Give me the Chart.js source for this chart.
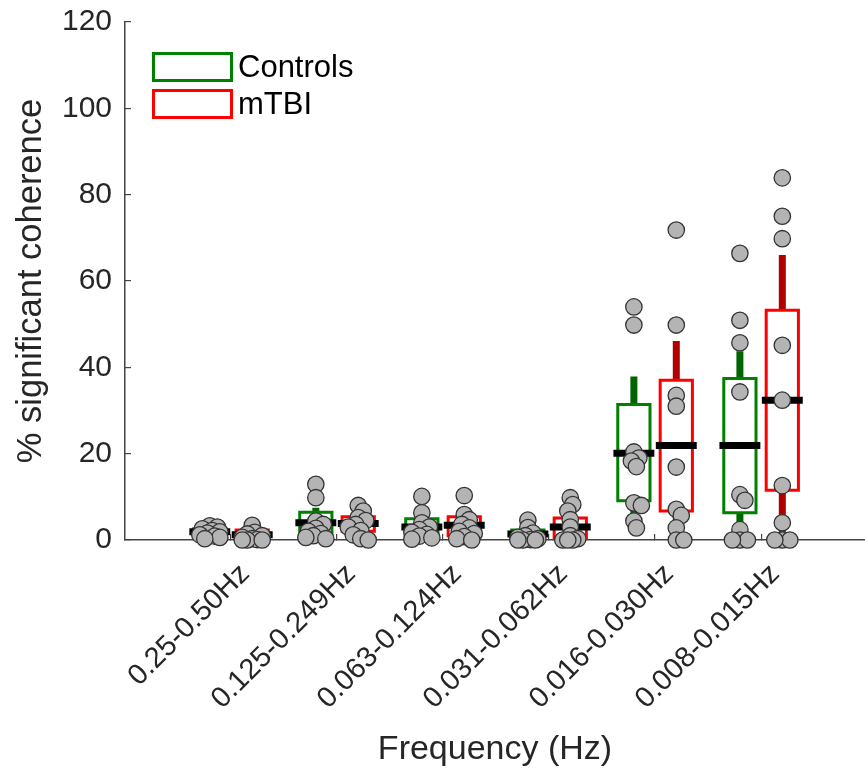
<!DOCTYPE html>
<html>
<head>
<meta charset="utf-8">
<script src="https://cdn.jsdelivr.net/npm/chart.js@4.4.0/dist/chart.umd.min.js"></script>
<style>
html, body { margin: 0; padding: 0; background: #fff; }
#wrap { position: relative; width: 865px; height: 768px; }
#legend { position: absolute; left: 152px; top: 52px; font-family: 'Liberation Sans', Arial, sans-serif; font-size: 31px; color: #000; }
.item { display: flex; align-items: center; height: 30px; margin-bottom: 7px; }
.swatch { width: 75px; height: 24px; border: 3px solid; background: #fff; margin-right: 5px; }
</style>
</head>
<body>
<div id="wrap">
  <canvas id="chart" width="865" height="768"></canvas>
  <div id="legend">
    <div class="item"><div class="swatch" style="border-color:#008000"></div>Controls</div>
    <div class="item"><div class="swatch" style="border-color:#ff0000"></div>mTBI</div>
  </div>
</div>
<script>
let categories = ['0.25-0.50Hz', '0.125-0.249Hz', '0.063-0.124Hz', '0.031-0.062Hz', '0.016-0.030Hz', '0.008-0.015Hz'];

// Controls: box stats per band
let ctrlLow = [0.3, 0.5, 0.2, 0, 2.8, 0];
let ctrlQ1 = [1.3, 1.3, 0.9, 0.3, 9.1, 6.3];
let ctrlMed = [1.9, 4.0, 3.0, 1.4, 20.1, 21.9];
let ctrlQ3 = [2.6, 6.4, 4.9, 2.3, 31.4, 37.4];
let ctrlHigh = [3.2, 7.5, 6.3, 2.9, 37.9, 43.7];

// mTBI: box stats per band
let tbiLow = [0, 0, 0, 0, 0, 0];
let tbiQ1 = [0.5, 2.0, 1.0, 0.3, 6.7, 11.5];
let tbiMed = [1.2, 3.8, 3.4, 3.0, 21.9, 32.4];
let tbiQ3 = [2.3, 5.4, 5.4, 5.1, 37.0, 53.2];
let tbiHigh = [3.4, 8.0, 5.9, 9.8, 46.1, 66.0];

// individual subjects
let ctrlPoints = [
  [3.3, 3.0, 2.6, 2.2, 1.9, 1.6, 1.2, 0.9, 0.6, 0.3],
  [12.9, 9.8, 4.4, 3.6, 2.7, 2.0, 1.5, 1.0, 0.6, 0.3],
  [10.1, 6.3, 4.0, 3.0, 2.4, 1.8, 1.3, 0.9, 0.5, 0.2],
  [4.6, 2.9, 1.6, 1.0, 0.6, 0.3, 0.1, 0, 0, 0],
  [54.0, 49.8, 20.4, 19.0, 18.3, 17.0, 8.6, 8.0, 4.4, 2.8],
  [66.4, 50.9, 45.7, 34.3, 10.5, 9.2, 2.4, 0, 0, 0],
];
let tbiPoints = [
  [3.4, 1.8, 1.4, 1.0, 0.6, 0.3, 0.1, 0, 0, 0],
  [8.0, 6.7, 5.2, 4.5, 3.6, 3.0, 2.2, 1.2, 0.3, 0],
  [10.3, 5.9, 4.7, 3.6, 2.8, 2.0, 1.5, 0.8, 0.3, 0],
  [9.8, 8.2, 6.7, 4.7, 3.0, 1.0, 0.3, 0, 0, 0],
  [71.8, 49.8, 33.5, 31.0, 16.9, 7.1, 5.7, 2.8, 0, 0],
  [83.9, 75.0, 69.8, 45.1, 32.4, 12.6, 4.0, 0, 0, 0],
];

let yTicks = [0, 20, 40, 60, 80, 100, 120];

let groupOffset = 0.2;
let boxHalf = 0.152;
let medianHalf = 0.193;
let fontFamily = "'Liberation Sans', Arial, Helvetica, sans-serif";
let textColor = '#262626';

let whiskerData = (low, q1, q3, high, shift) => {
  let out = [];
  categories.forEach((c, i) => {
    let cx = i + 1 + shift;
    out.push({x: cx, y: low[i]}, {x: cx, y: q1[i]}, {x: cx, y: null});
    out.push({x: cx, y: q3[i]}, {x: cx, y: high[i]}, {x: cx, y: null});
  });
  return out;
};

let boxData = (q1, q3, shift) => {
  let out = [];
  categories.forEach((c, i) => {
    let cx = i + 1 + shift;
    out.push({x: cx, y: q1[i]}, {x: cx + boxHalf, y: q1[i]}, {x: cx + boxHalf, y: q3[i]},
      {x: cx - boxHalf, y: q3[i]}, {x: cx - boxHalf, y: q1[i]}, {x: cx, y: q1[i]}, {x: cx, y: null});
  });
  return out;
};

let medianData = (med, shift) => {
  let out = [];
  categories.forEach((c, i) => {
    let cx = i + 1 + shift;
    out.push({x: cx - medianHalf, y: med[i]}, {x: cx + medianHalf, y: med[i]}, {x: cx, y: null});
  });
  return out;
};

let centerData = (groups, shift) => {
  let out = [];
  groups.forEach((vals, i) => vals.forEach(v => out.push({x: i + 1 + shift, y: v})));
  return out;
};

let lineSet = (data, color, width, order) => ({
  data: data,
  showLine: true,
  borderColor: color,
  borderWidth: width,
  borderCapStyle: 'butt',
  borderJoinStyle: 'miter',
  pointRadius: 0,
  spanGaps: false,
  tension: 0,
  clip: false,
  order: order,
});

let pointSet = (data) => ({
  data: data,
  showLine: false,
  pointRadius: 8.2,
  pointBackgroundColor: '#b4b4b4',
  pointBorderColor: '#333333',
  pointBorderWidth: 1.3,
  clip: false,
  order: 0,
});

let chart = new Chart(document.getElementById('chart'), {
  type: 'scatter',
  data: {
    datasets: [
      pointSet(centerData(ctrlPoints, -groupOffset)),
      pointSet(centerData(tbiPoints, groupOffset)),
      lineSet(medianData(ctrlMed, -groupOffset), '#000000', 7, 1),
      lineSet(medianData(tbiMed, groupOffset), '#000000', 7, 1),
      lineSet(boxData(ctrlQ1, ctrlQ3, -groupOffset), '#008000', 3, 2),
      lineSet(boxData(tbiQ1, tbiQ3, groupOffset), '#ff0000', 3, 2),
      lineSet(whiskerData(ctrlLow, ctrlQ1, ctrlQ3, ctrlHigh, -groupOffset), '#006400', 7, 3),
      lineSet(whiskerData(tbiLow, tbiQ1, tbiQ3, tbiHigh, groupOffset), '#b00000', 7, 3),
    ],
  },
  options: {
    responsive: false,
    animation: false,
    events: [],
    layout: { autoPadding: false, padding: { top: 22, left: 0, right: 0, bottom: 0 } },
    plugins: {
      legend: { display: false },
      tooltip: { enabled: false },
    },
    scales: {
      x: {
        type: 'linear',
        min: 0,
        max: 6.98,
        afterBuildTicks: (axis) => {
          axis.ticks = categories.map((c, i) => ({ value: i + 1 }));
        },
        afterFit: (s) => { s.height = 228; s.paddingLeft = 0; s.paddingRight = 0; },
        border: { color: '#444444', width: 1.5 },
        grid: { drawOnChartArea: false, tickLength: -6, color: '#444444', lineWidth: 1.2 },
        ticks: {
          autoSkip: false,
          maxRotation: 45,
          minRotation: 45,
          padding: 23,
          labelOffset: 14,
          color: textColor,
          font: { family: fontFamily, size: 29 },
          callback: (value) => categories[Math.round(value) - 1] || '',
        },
        title: {
          display: true,
          text: 'Frequency (Hz)',
          color: textColor,
          font: { family: fontFamily, size: 34, lineHeight: 1 },
          padding: { top: 0, bottom: 1 },
        },
      },
      y: {
        min: 0,
        max: 120,
        afterBuildTicks: (axis) => {
          axis.ticks = yTicks.map(v => ({ value: v }));
        },
        afterFit: (s) => { s.width = 125; s.paddingTop = 0; s.paddingBottom = 0; },
        border: { color: '#444444', width: 1.5 },
        grid: { drawOnChartArea: false, tickLength: -6, color: '#444444', lineWidth: 1.2 },
        ticks: {
          padding: 19,
          color: textColor,
          font: { family: fontFamily, size: 30 },
        },
        title: {
          display: true,
          text: '% significant coherence',
          color: textColor,
          font: { family: fontFamily, size: 34.5, lineHeight: 1.2 },
          padding: { top: 11, bottom: 0 },
        },
      },
    },
  },
});

// spread overlapping subjects a little sideways, measured on the chart's own scales
let swarm = (groups, shift) => {
  let xs = chart.scales.x;
  let ys = chart.scales.y;
  let out = [];
  groups.forEach((vals, i) => {
    let cx = xs.getPixelForValue(i + 1 + shift);
    let placed = [];
    vals.forEach(v => {
      let py = ys.getPixelForValue(v);
      let best = cx;
      let bestGap = -1;
      for (let k = 0; k < 9; k++) {
        let off = (k % 2 ? 1 : -1) * Math.ceil(k / 2) * 2.5;
        let tx = cx + off;
        let gap = placed.length ? Math.min(...placed.map(p => Math.hypot(p.x - tx, p.y - py))) : 99;
        if (gap >= 7) { best = tx; bestGap = gap; break; }
        if (gap > bestGap) { best = tx; bestGap = gap; }
      }
      placed.push({x: best, y: py});
      out.push({x: xs.getValueForPixel(best), y: v});
    });
  });
  return out;
};

chart.data.datasets[0].data = swarm(ctrlPoints, -groupOffset);
chart.data.datasets[1].data = swarm(tbiPoints, groupOffset);
chart.update();
</script>
</body>
</html>
